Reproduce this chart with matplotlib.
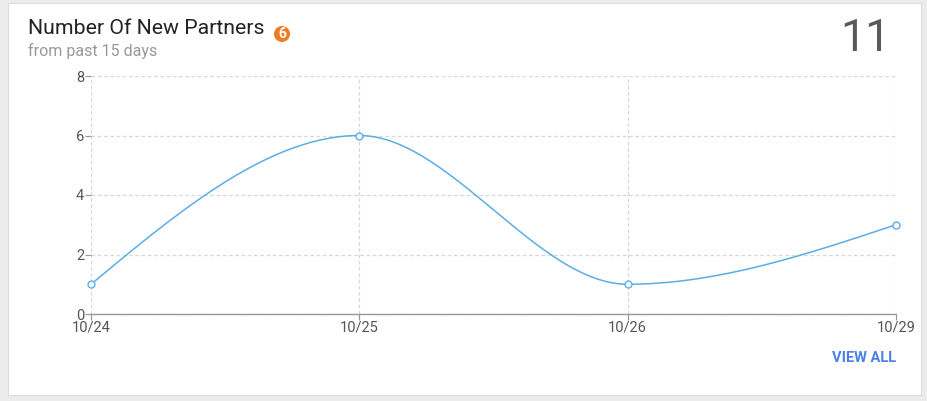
import numpy as np
import matplotlib
matplotlib.use("Agg")
import matplotlib.pyplot as plt
from matplotlib.patches import Rectangle, Ellipse

categories = ["10/24", "10/25", "10/26", "10/29"]
values = [1, 6, 1, 3]
y_ticks = [0, 2, 4, 6, 8]
title = "Number Of New Partners"
subtitle = "from past 15 days"
total = "11"
badge = "6"

plt.rcParams['font.family'] = ['Roboto', 'DejaVu Sans']

W, H = 928, 401
fig = plt.figure(figsize=(W / 100, H / 100), dpi=100)
fig.patch.set_facecolor('#ececec')

def fx(px):
    return px / W

def fy(py):
    return 1 - py / H

# card
card = Rectangle((fx(8), fy(395)), fx(921) - fx(8), fy(3) - fy(395),
                 transform=fig.transFigure, facecolor='white', edgecolor='#dcdcdc',
                 linewidth=0.8, zorder=-5)
fig.patches.append(card)

ax = fig.add_axes([fx(91), fy(314), fx(896) - fx(91), fy(76) - fy(314)])
ax.set_zorder(2)
ax.set_facecolor('none')

def monotone(x, y, n=60):
    x = np.asarray(x, float); y = np.asarray(y, float)
    h = np.diff(x); d = np.diff(y) / h
    m = np.zeros_like(y)
    for i in range(1, len(y) - 1):
        if d[i - 1] * d[i] <= 0:
            m[i] = 0
        else:
            m[i] = (3 * (h[i - 1] + h[i])) / ((2 * h[i] + h[i - 1]) / d[i - 1] + (h[i] + 2 * h[i - 1]) / d[i])
    m[0] = (3 * d[0] - m[1]) / 2
    m[-1] = (3 * d[-1] - m[-2]) / 2
    xs, ys = [], []
    for i in range(len(x) - 1):
        t = np.linspace(0, 1, n)
        h00 = 2 * t**3 - 3 * t**2 + 1
        h10 = t**3 - 2 * t**2 + t
        h01 = -2 * t**3 + 3 * t**2
        h11 = t**3 - t**2
        xs.append(x[i] + t * h[i])
        ys.append(h00 * y[i] + h10 * h[i] * m[i] + h01 * y[i + 1] + h11 * h[i] * m[i + 1])
    return np.concatenate(xs), np.concatenate(ys)

xpos = np.arange(len(categories))
sx, sy = monotone(xpos, values)
ax.plot(sx, sy, color='#5aaee6', linewidth=1.1, zorder=3, clip_on=False)
ax.plot(xpos, values, linestyle='none', marker='o', markersize=5,
        markerfacecolor='white', markeredgecolor='#5aaee6', markeredgewidth=1.0,
        zorder=4, clip_on=False)

ax.set_xlim(0, len(categories) - 1)
ax.set_ylim(0, 8)
ax.set_xticks(xpos)
ax.set_xticklabels(categories)
ax.set_yticks(y_ticks)
ax.grid(True, color='#d8d8d8', linestyle=(0, (3, 2)), linewidth=0.9)
for s in ['top', 'right', 'left']:
    ax.spines[s].set_visible(False)
ax.spines['bottom'].set_color('#999999')
ax.spines['bottom'].set_linewidth(1.0)
ax.tick_params(axis='y', colors='#999999', labelcolor='#555555', labelsize=10.5,
               length=4, width=0.9, pad=1)
ax.tick_params(axis='x', colors='#999999', labelcolor='#555555', labelsize=10.5,
               length=4, width=0.9, pad=1)

fig.text(fx(28), fy(29), title, fontsize=15.3, color='#222222', va='center', ha='left')
fig.patches.append(Ellipse((fx(282), fy(34)), 16 / W, 16 / H, transform=fig.transFigure,
                           facecolor='#f07b22', edgecolor='none', zorder=3))
fig.text(fx(282), fy(34), badge, fontsize=10, color='white', fontweight='bold',
         va='center', ha='center', zorder=4)
fig.text(fx(28), fy(51), subtitle, fontsize=11.5, color='#999999', va='center', ha='left')
fig.text(fx(891), fy(39), total, fontsize=32, color='#5a5a5a',
         va='center', ha='right')
fig.text(fx(896), fy(358), "VIEW ALL", fontsize=10.5, color='#4a80e8', fontweight='bold',
         va='center', ha='right')

fig.savefig('out.png', dpi=100, facecolor=fig.get_facecolor())
